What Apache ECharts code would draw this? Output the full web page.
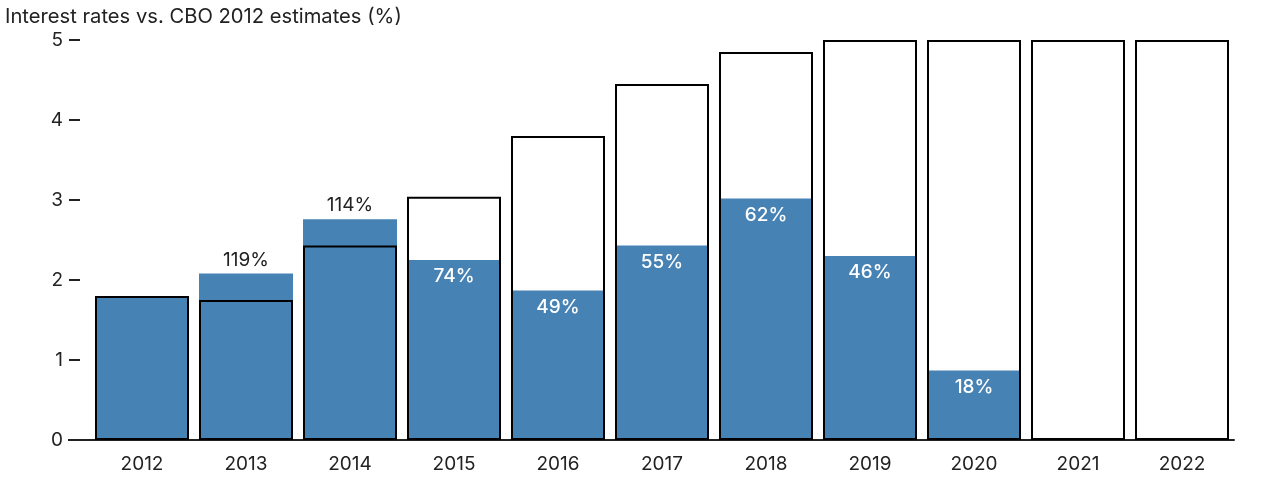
<!DOCTYPE html>
<html><head><meta charset="utf-8">
<script src="https://cdn.jsdelivr.net/npm/echarts@6/dist/echarts.min.js"></script>
<style>html,body{margin:0;padding:0;background:#fff}#c{width:1280px;height:500px}</style>
</head><body><div id="c"></div>
<script>
const years = ['2012','2013','2014','2015','2016','2017','2018','2019','2020','2021','2022'];
const actualRates = [1.80, 2.08, 2.76, 2.25, 1.87, 2.43, 3.02, 2.30, 0.87, null, null];
const cboEstimates = [1.80, 1.75, 2.43, 3.04, 3.80, 4.45, 4.85, 5.00, 5.00, 5.00, 5.00];
const ratioLabels = ['', '119%', '114%', '74%', '49%', '55%', '62%', '46%', '18%', '', ''];
const yTicks = [0, 1, 2, 3, 4, 5];

const font = 'Inter, "Noto Sans", sans-serif';
const chart = echarts.init(document.getElementById('c'));
const actualData = actualRates.map((v, i) => {
  const lab = ratioLabels[i];
  const above = lab && parseInt(lab) > 100;
  return {
    value: v,
    label: {
      show: !!lab,
      formatter: lab,
      position: above ? 'top' : 'insideTop',
      distance: above ? 4 : 7,
      color: above ? '#222' : '#fff',
      fontWeight: above ? 'normal' : 500
    }
  };
});
chart.setOption({
  animation: false,
  title: { text: 'Interest rates vs. CBO 2012 estimates (%)', left: 0, top: 2,
    textStyle: { fontFamily: font, fontSize: 20.2, fontWeight: 'normal', color: '#222' } },
  grid: { left: 90, right: 46, top: 40, bottom: 60 },
  xAxis: { type: 'category', data: years,
    axisLine: { lineStyle: { color: '#222', width: 2 } },
    axisTick: { alignWithLabel: true, length: 9, lineStyle: { color: '#222', width: 2 } },
    axisLabel: { fontFamily: font, fontSize: 19, color: '#222', margin: 15 } },
  yAxis: { type: 'value', min: 0, max: 5, interval: 1, offset: 10,
    splitLine: { show: false }, axisLine: { show: false },
    axisTick: { show: true, length: 11, lineStyle: { color: '#222', width: 2 } },
    axisLabel: { fontFamily: font, fontSize: 19, color: '#222', margin: 17,
      formatter: v => yTicks.includes(v) ? String(v) : '' } },
  series: [
    { name: 'Actual', type: 'bar', data: actualData, barWidth: 94, barGap: '-100%',
      itemStyle: { color: '#4682b4' },
      label: { fontFamily: font, fontSize: 19 } },
    { name: 'CBO 2012 estimate', type: 'bar', data: cboEstimates, barWidth: 94, barGap: '-100%',
      itemStyle: { color: 'rgba(0,0,0,0)', borderColor: '#000', borderWidth: 2 }, z: 3 }
  ]
});
const p0 = chart.convertToPixel({ gridIndex: 0 }, [0, 0]);
chart.setOption({ graphic: [{ type: 'line', shape: { x1: 68, y1: p0[1], x2: 91, y2: p0[1] },
  style: { stroke: '#222', lineWidth: 2 } }] });
</script></body></html>
